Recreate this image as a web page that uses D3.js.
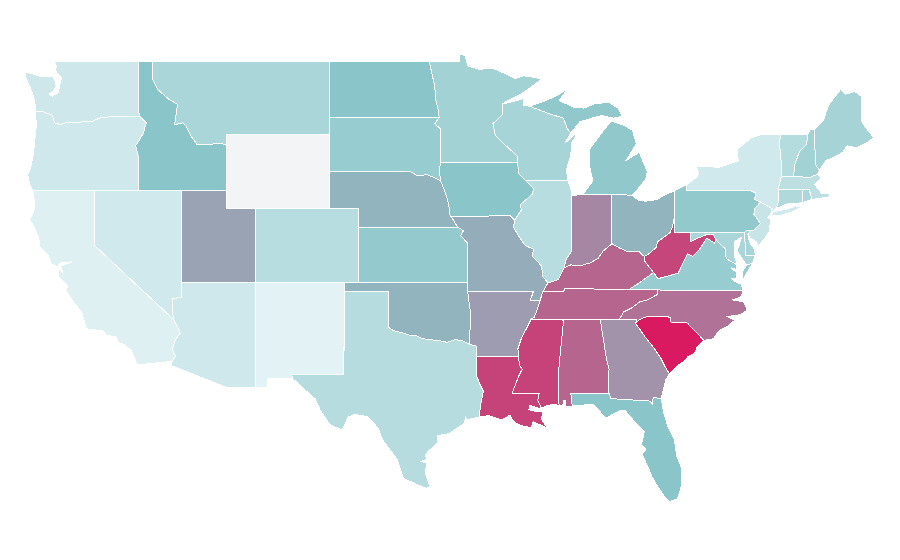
<!DOCTYPE html>
<html>
<head>
<meta charset="utf-8">
<script src="https://d3js.org/d3.v7.min.js"></script>
<style>
  body { margin: 0; background: #fff; font-family: "Liberation Sans", sans-serif; }
  path.state { stroke: #fff; stroke-width: 1; stroke-linejoin: round; shape-rendering: crispEdges; }
</style>
</head>
<body>
<svg id="map" width="900" height="560"></svg>
<script>
// shared borders, lon/lat
var waOr = [[-124.02,46.25],[-123.5,46.26],[-123.2,46.15],[-122.9,46.08],[-122.8,45.85],[-122.72,45.65],[-122.3,45.55],[-121.9,45.68],[-121.2,45.65],[-120.65,45.74],[-120.2,45.72],[-119.6,45.92],[-119.2,45.93],[-118.98,46],[-116.92,46]];
var orId = [[-116.92,46],[-116.47,45.65],[-116.7,45.05],[-117.2,44.4],[-117.03,43.85],[-117.03,42]];
var idMt = [[-116.05,49],[-116.05,48],[-115.7,47.45],[-114.9,46.9],[-114.35,46.65],[-114.5,45.85],[-114.55,45.55],[-114,45.65],[-113.8,45.5],[-113.45,44.95],[-113,44.45],[-112.4,44.45],[-111.5,44.55],[-111.05,44.45]];
var azCa = [[-114.63,35],[-114.15,34.27],[-114.5,33.9],[-114.7,33.4],[-114.5,33],[-114.72,32.72]];
var azNv = [[-114.05,37],[-114.05,36.2],[-114.4,36.15],[-114.72,36.1],[-114.7,35.5],[-114.63,35]];
var ndMn = [[-97.23,49],[-97.1,48.5],[-96.85,47.6],[-96.8,46.9],[-96.6,46.3],[-96.56,45.94]];
var sdMn = [[-96.56,45.94],[-96.85,45.6],[-96.45,45.3],[-96.45,43.5]];
var sdIa = [[-96.45,43.5],[-96.55,43.1],[-96.45,42.5]];
var sdNe = [[-104.05,43],[-98.5,43],[-98,42.77],[-97.4,42.85],[-96.8,42.65],[-96.45,42.5]];
var neIa = [[-96.45,42.5],[-96.2,42],[-96,41.5],[-95.9,41.2],[-95.85,40.7],[-95.75,40.58]];
var neMo = [[-95.75,40.58],[-95.3,40]];
var ksMo = [[-95.3,40],[-94.9,39.8],[-95.1,39.55],[-94.6,39.1],[-94.62,37]];
var okRed = [[-94.48,33.64],[-95,33.85],[-95.5,33.9],[-96,33.75],[-96.6,33.85],[-97.2,33.9],[-97.7,33.95],[-98.1,34.1],[-98.6,34.15],[-99.2,34.3],[-99.7,34.4],[-100,34.56]];
var okAr = [[-94.62,36.5],[-94.43,35.4],[-94.48,33.64]];
var arTx = [[-94.48,33.64],[-94.04,33.55],[-94.04,33]];
var laTx = [[-94.04,33],[-94.04,32],[-93.8,31.5],[-93.55,31.1],[-93.7,30.5],[-93.85,29.7]];
var mnWi = [[-92.28,46.66],[-92.28,46.07],[-92.9,45.6],[-92.75,45],[-92,44.4],[-91.25,43.85],[-91.22,43.5]];
var iaWi = [[-91.22,43.5],[-91.15,42.9],[-90.65,42.5]];
var iaIl = [[-90.65,42.5],[-90.15,42.1],[-90.2,41.8],[-91.05,41.2],[-90.95,40.95],[-91.42,40.38]];
var iaMo = [[-95.75,40.58],[-91.73,40.61],[-91.42,40.38]];
var moIl = [[-91.42,40.38],[-91.5,40],[-91.1,39.45],[-90.7,39],[-90.15,38.8],[-90.2,38.4],[-89.6,37.9],[-89.5,37.3],[-89.15,36.98]];
var moKy = [[-89.15,36.98],[-89.5,36.5]];
var moTn = [[-89.5,36.5],[-89.7,36]];
var moAr = [[-94.62,36.5],[-90.15,36.5],[-90.37,36],[-89.7,36]];
var arTn = [[-89.7,36],[-89.9,35.5],[-90.1,35.1],[-90.3,35]];
var arMs = [[-90.3,35],[-90.55,34.6],[-90.95,34],[-91.2,33.4],[-91.15,33]];
var laMs = [[-91.15,33],[-91.1,32.5],[-90.9,32.3],[-91.1,32],[-91.6,31],[-89.75,31],[-89.85,30.6],[-89.6,30.18]];
var kyOh = [[-82.6,38.4],[-83,38.7],[-83.7,38.65],[-84.25,38.85],[-84.8,39.1]];
var kyIn = [[-84.8,39.1],[-85.4,38.7],[-85.75,38.3],[-86.3,38.05],[-87,37.9],[-87.6,37.95],[-88.05,37.8]];
var kyIl = [[-88.05,37.8],[-88.45,37.15],[-89.15,36.98]];
var inIl = [[-87.53,41.72],[-87.53,39.35],[-87.55,38.7],[-87.95,38.2],[-88.05,37.8]];
var ohWv = [[-80.52,40.64],[-80.7,40],[-80.85,39.7],[-81.7,39.2],[-81.8,38.9],[-82.2,38.6],[-82.6,38.4]];
var kyVa = [[-83.68,36.6],[-82.9,37],[-81.97,37.54]];
var kyWv = [[-81.97,37.54],[-82.6,38.17],[-82.6,38.4]];
var vaWv = [[-81.97,37.54],[-81.68,37.2],[-80.3,37.5],[-79.65,38.55],[-79.3,38.42],[-78.87,38.77],[-78.35,39.4],[-77.83,39.13],[-77.72,39.32]];
var mdVa = [[-77.72,39.32],[-77.5,39.1],[-77.05,38.8],[-77.05,38.4],[-76.95,38.25],[-76.3,37.95]];
var mdWv = [[-79.48,39.72],[-79.48,39.2],[-78.9,39.42],[-78.4,39.58],[-77.95,39.62],[-77.72,39.32]];
var ncTn = [[-84.3,35],[-84,35.4],[-83.5,35.6],[-82.9,35.95],[-82.4,36.05],[-81.7,36.35],[-81.68,36.59]];
var tnKy = [[-81.68,36.59],[-83.68,36.6],[-88.05,36.68],[-88.07,36.5],[-89.5,36.5]];
var alGa = [[-85.6,35],[-85.18,32.87],[-85,32.3],[-85.05,31.55],[-85,31]];
var msAl = [[-88.2,35],[-88.1,34.9],[-88.47,31.9],[-88.4,30.35]];
var savannah = [[-83.2,34.78],[-82.9,34.45],[-82.5,34],[-81.9,33.4],[-81.45,32.85],[-81.2,32.45],[-80.9,32.05]];
var gaFl = [[-85,31],[-84.86,30.7],[-82.2,30.57],[-82.05,30.36],[-82,30.75],[-81.45,30.72]];
var ncSc = [[-83.2,34.78],[-82.9,35],[-82.4,35.15],[-81.05,35.15],[-80.85,35.1],[-80.78,34.82],[-79.67,34.8],[-78.55,33.86]];
var miWi = [[-90.4,46.55],[-89.1,46.15],[-88.1,45.9],[-87.85,45.35],[-87.6,45.1]];
var paNy = [[-79.76,42],[-75.5,42]];
var delaware = [[-75.5,42],[-75,41.85],[-75.1,41.5],[-74.7,41.36]];
var njPa = [[-74.7,41.36],[-75.1,41],[-75.15,40.7],[-74.7,40.2],[-75.1,39.85],[-75.4,39.8]];
var vtNh = [[-71.5,45],[-71.55,44.5],[-72.05,44.1],[-72.35,43.4],[-72.46,42.73]];
var vtNy = [[-73.35,45],[-73.4,44.5],[-73.3,43.6],[-73.27,42.75]];
var nyCt = [[-73.5,42.05],[-73.5,41.3],[-73.65,41]];

function rev(a) { return a.slice().reverse(); }

// states
var washington = [[-117.03,49],[-122.76,49],[-122.6,48.75],[-122.65,48.45],[-122.25,48.1],[-122.35,47.75],[-122.45,47.3],[-122.85,47.1],[-123.1,47.2],[-122.75,47.4],[-122.6,47.65],[-122.7,47.95],[-122.8,48.13],[-123.1,48.15],[-123.7,48.16],[-124.25,48.32],[-124.72,48.38],[-124.65,48.05],[-124.4,47.6],[-124.15,47.1],[-124.05,46.7]].concat(waOr,[[-117.04,46.42]]);
var oregon = waOr.concat(orId,[[-120,42],[-124.21,42],[-124.4,42.3],[-124.55,42.84],[-124.35,43.2],[-124.15,44],[-124.07,44.7],[-123.95,45.5]]);
var idaho = [[-117.03,49]].concat(idMt,[[-111.05,42],[-117.03,42]],rev(orId),[[-117.04,46.42]]);
var montana = idMt.concat([[-111.05,45],[-104.05,45],[-104.05,49]]);
var wyoming = [[-111.05,45],[-104.05,45],[-104.05,41],[-111.05,41]];
var california = [[-120,42],[-124.21,42],[-124.1,41.5],[-124.07,41],[-124.4,40.4],[-124.05,39.9],[-123.8,39.4],[-123.7,38.9],[-123.1,38.4],[-122.95,38],[-122.5,37.85],[-122.35,38.05],[-121.9,38.07],[-121.55,38.12],[-122,37.98],[-122.3,37.9],[-122.15,37.55],[-122.42,37.75],[-122.45,37.3],[-122,36.95],[-121.8,36.8],[-121.95,36.55],[-121.4,35.9],[-120.85,35.35],[-120.6,34.6],[-120.45,34.45],[-119.5,34.4],[-119.2,34.15],[-118.5,34.03],[-118.4,33.75],[-118,33.65],[-117.5,33.3],[-117.25,32.85],[-117.12,32.53]].concat(rev(azCa),[[-120,39]]);
var nevada = [[-120,42],[-114.05,42]].concat(azNv,[[-120,39]]);
var utah = [[-114.05,42],[-111.05,42],[-111.05,41],[-109.05,41],[-109.05,37],[-114.05,37]];
var colorado = [[-109.05,41],[-102.05,41],[-102.05,37],[-109.05,37]];
var arizona = [[-114.05,37],[-109.05,37],[-109.05,31.33],[-111.07,31.33],[-114.8,32.5]].concat(rev(azCa),rev(azNv));
var newMexico = [[-109.05,37],[-103,37],[-103.04,32],[-106.6,32],[-106.5,31.78],[-108.2,31.78],[-108.2,31.33],[-109.05,31.33]];
var northDakota = [[-104.05,49]].concat(ndMn,[[-104.05,45.94]]);
var southDakota = [[-104.05,45.94]].concat(sdMn,sdIa,rev(sdNe));
var nebraska = sdNe.concat(neIa,neMo,[[-102.05,40],[-102.05,41],[-104.05,41]]);
var kansas = [[-102.05,40],[-95.3,40]].concat(ksMo,[[-102.05,37]]);
var oklahoma = [[-103,37],[-94.62,37]].concat(okAr,okRed,[[-100,36.5],[-103,36.5]]);
var texas = [[-103,36.5],[-100,36.5]].concat(rev(okRed),arTx,laTx,[[-94.7,29.55],[-94.75,29.75],[-94.85,29.35],[-95.15,29.2],[-95.9,28.8],[-96.65,28.7],[-96.65,28.3],[-97.3,27.85],[-97.5,27.65],[-97.4,27.4],[-97.8,27.3],[-97.4,27.2],[-97.5,26.7],[-97.2,25.95],[-97.4,25.84],[-98.1,26.05],[-99,26.4],[-99.4,27.4],[-100.4,28.45],[-100.7,29.1],[-101.4,29.72],[-102.3,29.85],[-102.75,29.7],[-103.15,29],[-104,29.3],[-104.66,30.1],[-105,30.7],[-106,31.4],[-106.5,31.78],[-106.6,32],[-103.04,32]]);
var minnesota = [[-97.23,49],[-95.15,49],[-95.15,49.38],[-94.8,49.3],[-94.6,48.72],[-93.8,48.55],[-92.95,48.62],[-92,48.3],[-91.4,48.05],[-90.8,48.2],[-90,48.1],[-89.6,48],[-90.8,47.3],[-92.1,46.75]].concat(mnWi,[[-96.45,43.5]],rev(sdMn),rev(ndMn));
var iowa = [[-96.45,43.5],[-91.22,43.5]].concat(iaWi,iaIl,rev(iaMo),rev(neIa),rev(sdIa));
var missouri = [[-95.75,40.58]].concat(iaMo.slice(1),moIl,moKy,moTn,rev(moAr),[[-94.62,37]],rev(ksMo),rev(neMo));
var arkansas = moAr.concat(arTn,arMs,[[-94.04,33]],rev(arTx),rev(okAr));
var louisiana = [[-94.04,33]].concat(laMs,[[-89.9,30.2],[-90.4,30.35],[-90.45,30.1],[-89.9,30],[-89.5,30],[-89.6,29.6],[-89.15,29.03],[-89.4,29.2],[-89.75,29.3],[-90.15,29.45],[-90.3,29.15],[-90.6,29.17],[-91.2,29.3],[-91.6,29.6],[-91.75,29.8],[-92.3,29.55],[-93.2,29.78]],rev(laTx));
var wisconsin = [[-92.28,46.66],[-91.3,46.85],[-90.85,46.95],[-90.85,46.6]].concat(miWi,[[-88,44.55],[-87.1,45.17],[-87.55,44.55],[-87.6,43.9],[-87.9,43.1],[-87.8,42.5]],rev(iaWi),rev(mnWi));
var illinois = [[-90.65,42.5],[-87.8,42.5],[-87.6,42.1]].concat(inIl,kyIl,rev(moIl),rev(iaIl));
var indiana = [[-87.53,41.72],[-86.8,41.76],[-84.8,41.76]].concat(kyIn,rev(inIl));
var michiganUpper = [[-90.4,46.55],[-89.3,46.85],[-88.5,47.15],[-87.85,47.47],[-88.4,46.85],[-87.4,46.5],[-86.7,46.45],[-85.9,46.7],[-85,46.75],[-84.4,46.45],[-84.1,46],[-84.7,45.9],[-85.5,46.05],[-86.4,45.85],[-87,45.7]].concat(rev(miWi));
var michiganLower = [[-84.8,41.76],[-83.45,41.73],[-83.2,41.9],[-82.5,42.6],[-82.4,43],[-82.95,44.05],[-83.85,43.6],[-83.15,44.5],[-83.4,45.25],[-84.1,45.55],[-84.85,45.75],[-85.6,45],[-86.3,44.25],[-86.3,43.2],[-86.1,42.5],[-86.8,41.76]];
var ohio = [[-84.8,41.76],[-83.45,41.73],[-83,41.45],[-82.5,41.4],[-81.7,41.5],[-81.2,41.75],[-80.52,41.98]].concat(ohWv,kyOh);
var kentucky = kyOh.concat(kyIn,kyIl,moKy,rev(tnKy),kyVa,kyWv);
var tennessee = [[-90.3,35]].concat(ncTn,tnKy,moTn,arTn);
var mississippi = arMs.concat(laMs,[[-89.3,30.3],[-88.9,30.38]],rev(msAl));
var alabama = [[-88.2,35]].concat(alGa,[[-87.6,31],[-87.5,30.3],[-88,30.25],[-87.95,30.58],[-88.08,30.58],[-88.15,30.35]],rev(msAl));
var georgia = [[-85.6,35],[-83.12,35]].concat(savannah,[[-81.15,31.7],[-81.3,31.2]],rev(gaFl),rev(alGa));
var florida = [[-87.6,31]].concat(gaFl,[[-81.3,30],[-81,29.2],[-80.55,28.45],[-80.4,27.6],[-80.05,26.9],[-80.1,25.9],[-80.35,25.25],[-80.9,25.13],[-81.15,25.3],[-81.75,26],[-82.1,26.5],[-82.3,26.9],[-82.75,27.7],[-82.5,27.95],[-82.8,28.2],[-82.6,28.9],[-83.2,29.4],[-83.9,30.05],[-84.3,30.05],[-85.2,29.65],[-85.5,29.9],[-86.1,30.4],[-87.5,30.3]]);
var southCarolina = ncSc.concat([[-79,33.5],[-79.2,33.15],[-79.6,33],[-79.95,32.7],[-80.4,32.45],[-80.65,32.25]],rev(savannah));
var northCarolina = [[-84.3,35]].concat(ncTn,[[-75.87,36.55],[-76.05,36.2],[-76.6,36.05],[-75.85,35.95],[-75.6,35.5],[-76.05,35.25],[-77,35.15],[-76.45,34.95],[-76.9,34.65],[-77.5,34.4],[-77.9,33.95]],rev(ncSc),[[-83.12,35]]);
var virginia = [[-83.68,36.6],[-81.68,36.59],[-75.87,36.55],[-76,36.9],[-76.35,37],[-76.65,37.2],[-76.3,37.25],[-76.35,37.55],[-76.7,37.8],[-76.3,37.7]].concat(rev(mdVa),rev(vaWv),rev(kyVa));
var virginiaShore = [[-75.65,37.95],[-75.25,38.03],[-75.9,37.15],[-75.95,37.55]];
var westVirginia = [[-80.52,40.64]].concat(mdWv,rev(vaWv),kyWv,rev(ohWv));
var maryland = [[-79.48,39.72],[-75.79,39.72],[-75.7,38.46],[-75.05,38.45],[-75.25,38.03],[-75.65,37.95],[-75.95,38.3],[-76.3,38.7],[-76.15,39],[-76,39.45],[-76.5,39.2],[-76.5,38.9],[-76.45,38.4],[-76.3,37.95]].concat(rev(mdVa),rev(mdWv));
var delawareState = [[-75.79,39.72],[-75.6,39.84],[-75.4,39.8],[-75.55,39.5],[-75.4,39.1],[-75.1,38.8],[-75.05,38.45],[-75.7,38.46]];
var pennsylvania = [[-80.52,41.98],[-79.76,42.27]].concat(paNy,delaware,njPa,[[-75.6,39.84],[-75.79,39.72],[-80.52,39.72]]);
var newJersey = delaware.slice(-1).concat([[-73.9,41],[-74,40.7],[-74.25,40.5],[-74,40.45],[-74.1,39.75],[-74.4,39.4],[-74.9,38.93],[-74.95,39.2],[-75.4,39.4],[-75.55,39.6]],rev(njPa));
var newYork = [[-79.76,42.27],[-79.05,42.7],[-78.9,42.9],[-79.05,43.27],[-77.5,43.25],[-76.5,43.5],[-76.2,43.6],[-76.3,44.2],[-75.3,44.85],[-74.7,45]].concat(vtNy,nyCt,[[-73.9,40.85],[-74,40.7],[-73.9,41]],rev(delaware),rev(paNy));
var longIsland = [[-74.02,40.6],[-73.75,40.85],[-72.9,40.97],[-72.3,41.15],[-71.9,41.07],[-72.6,40.8],[-73.5,40.6]];
var vermont = [[-73.35,45]].concat(vtNh,rev(vtNy));
var newHampshire = vtNh.slice(0,1).concat([[-71.3,45.3],[-71.05,45.3],[-70.95,43.4],[-70.7,43.07],[-70.8,42.87],[-71.3,42.7]],rev(vtNh));
var maine = [[-71.05,45.3],[-70.4,45.8],[-70.25,46.2],[-70,46.7],[-69.25,47.45],[-68.9,47.2],[-68.3,47.35],[-67.8,47.07],[-67.8,45.7],[-67.45,45.3],[-67,44.85],[-67.5,44.55],[-68.2,44.3],[-68.8,44.4],[-69.1,44.05],[-69.8,43.75],[-70.25,43.6],[-70.7,43.07],[-70.95,43.4]];
var massachusetts = [[-73.5,42.05],[-73.27,42.75],[-72.46,42.73],[-71.3,42.7],[-70.8,42.87],[-70.6,42.65],[-71,42.3],[-70.65,41.95],[-70.5,41.8],[-70,41.8],[-70.25,42.05],[-69.95,41.85],[-70,41.65],[-70.65,41.55],[-71.2,41.5],[-71.38,42.02],[-71.8,42.02]];
var connecticut = [[-73.5,42.05],[-71.8,42.02],[-71.85,41.32],[-72.9,41.25],[-73.65,41],[-73.5,41.3]];
var rhodeIsland = [[-71.8,42.02],[-71.38,42.02],[-71.2,41.5],[-71.85,41.32]];

var stateNames = ["Washington","Oregon","Idaho","Montana","Wyoming","California","Nevada","Utah","Colorado","Arizona","New Mexico","North Dakota","South Dakota","Nebraska","Kansas","Oklahoma","Texas","Minnesota","Iowa","Missouri","Arkansas","Louisiana","Wisconsin","Illinois","Indiana","Michigan","Ohio","Kentucky","Tennessee","Mississippi","Alabama","Georgia","Florida","South Carolina","North Carolina","Virginia","West Virginia","Maryland","Delaware","Pennsylvania","New Jersey","New York","Vermont","New Hampshire","Maine","Massachusetts","Connecticut","Rhode Island"];
var stateValues = [15,14,50,33,null,6,13,60,26,14,3,50,43,55,45,55,27,37,50,57,62,88,35,26,68,47,55,78,78,88,78,65,50,100,74,43,87,33,35,46,18,13,28,37,36,23,30,32];
var stateRings = [[washington],[oregon],[idaho],[montana],[wyoming],[california],[nevada],[utah],[colorado],[arizona],[newMexico],[northDakota],[southDakota],[nebraska],[kansas],[oklahoma],[texas],[minnesota],[iowa],[missouri],[arkansas],[louisiana],[wisconsin],[illinois],[indiana],[michiganUpper,michiganLower],[ohio],[kentucky],[tennessee],[mississippi],[alabama],[georgia],[florida],[southCarolina],[northCarolina],[virginia,virginiaShore],[westVirginia],[maryland],[delawareState],[pennsylvania],[newJersey],[newYork,longIsland],[vermont],[newHampshire],[maine],[massachusetts],[connecticut],[rhodeIsland]];

var colorStops = ["#e9f6f8","#8ac5c9","#d91a60"];
var noDataColor = "#f3f4f6";

var color = d3.scaleLinear().domain([0,50,100]).range(colorStops);

// the map is a plain lon/lat grid, stretched a bit in y
var x = d3.scaleLinear().domain([-104.05,-66.95]).range([329,874.4]);
var y = d3.scaleLinear().domain([49,25.1]).range([61,502]);
var grid = d3.geoTransform({
  point: function(lon, lat) { this.stream.point(x(lon), y(lat)); }
});
var path = d3.geoPath(grid);

var features = stateNames.map(function(name, i) {
  return {
    type: "Feature",
    properties: { name: name, value: stateValues[i] },
    geometry: {
      type: "MultiPolygon",
      coordinates: stateRings[i].map(function(r) { return [r.concat([r[0]])]; })
    }
  };
});

d3.select("#map").selectAll("path")
  .data(features)
  .enter().append("path")
  .attr("class", "state")
  .attr("d", path)
  .attr("fill", function(d) {
    return d.properties.value === null ? noDataColor : color(d.properties.value);
  })
  .append("title")
  .text(function(d) { return d.properties.name; });
</script>
</body>
</html>
